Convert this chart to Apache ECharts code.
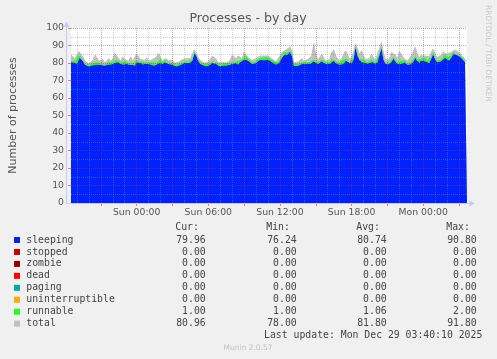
<!DOCTYPE html>
<html><head><meta charset="utf-8">
<script src="https://cdn.jsdelivr.net/npm/echarts@6/dist/echarts.min.js"></script>
<style>html,body{margin:0;padding:0;background:#f0f0f0}#c{width:497px;height:359px}</style>
</head><body><div id="c"></div>
<script>
// ---- data ----
const startMinute = -330;          // Sat 18:30 relative to Sun 00:00
const stepMinutes = 10;
const xTickLabels = ['Sun 00:00','Sun 06:00','Sun 12:00','Sun 18:00','Mon 00:00'];
const yTicks = [0,10,20,30,40,50,60,70,80,90,100];

const sleeping = [
80.5,80.8,80.2,79.5,83.5,84.5,81,79,78.5,78,
78.5,79,78.8,79.5,79,78.8,79.2,78.5,79,79.5,
79,79.5,80,81,80.5,79.5,79,80,79.5,79,
79.5,79,78.5,80.5,81.5,80,79,79.5,80,79.5,
79,79.5,78.5,79,80,80.5,79.5,80.5,81,79.5,
79.5,79,78.5,78,78.5,79,79.5,80,80.5,80,
80,81.5,85.5,84,81,79.5,79,78.5,78,78.5,
79,80,81,79.5,78.5,78,78.5,79,78.5,78.8,
79,79.5,80.5,80,79,80.5,81,82,82.5,81.5,
80.5,79.5,79.5,80,81.5,82,82,81.5,82.5,82,
81.5,80.5,80,79,79.5,80.5,83,84.5,85.5,85,
86.5,84,78.5,78,78.5,79,79.5,79,79.5,80,
79.5,80.5,81,80.5,79.5,80,81,80.5,79.5,80,
79.5,80.5,81.5,80,79.5,79,80.5,79.5,81.5,82.5,
80,79.5,82,89,84,81.5,80.5,81,80,79.5,
80,81,80.5,79.5,80,84.5,88.5,82,79.5,79,
79.5,80.5,82.5,81,79.5,80,79.5,81,80.5,79,
79,79.5,80.5,83,81,80,81.5,82,81,80.5,
80,82.5,85,82,80.5,80,81,82,83,82.5,
81.5,83,85.5,86,84.5,84,83,82,80.5,79.96
];
const runnable = [
1,1,1,1,1,1,1,1,1,1,
1,1,2,1,1,1,1,1,1,1,
1,1,1,1,1,1,1,1,1,1,
1,1,1,1,1,1,1,1,1,1,
1,1,1,1,1,2,1,1,1,1,
1,1,1,1,1,1,1,1,1,1,
1,1,1,2,1,1,1,1,1,1,
1,1,1,1,1,1,1,1,1,1,
1,1,1,1,1,1,1,1,2,1,
1,1,1,1,1,1,1,1,1,1,
1,1,1,1,1,1,1,2,1,1,
1,1,1,1,1,1,1,1,1,1,
1,1,1,1,1,1,1,1,1,1,
1,2,1,1,1,1,1,1,1,1,
1,1,1,1,1,1,1,1,1,1,
1,1,2,1,1,1,1,1,1,1,
1,1,1,1,1,1,2,1,1,1,
1,1,1,1,1,1,1,1,2,1,
1,1,1,1,1,1,1,1,2,1,
1,1,1,1,1,2,1,1,1,1
];
const total = [
84.5,84,82.5,83,86.5,87,83.5,81,80,79.5,
80,81.5,84.5,83,81,80.5,82,80,81,82.5,
81,82.5,85.5,84,82.5,81,83.5,82,83,81,
83.5,81,80.5,85,84,82,81,81.5,83,81,
80.5,82,81,83.5,85.5,83,81,82.5,83,81.5,
82.5,81.5,80,79.5,80.5,81,82,83,82.5,82,
82.5,85,87.5,86.5,83,81.5,81,80,79.5,80.5,
81,84,85,82,80,79.5,80.5,81,80,80.5,
81.5,84.5,85,82.5,84,83,82.5,86,84.5,83,
82,81.5,81,82.5,83.5,84,83.5,84,85,84,
83.5,82.5,82,80.5,81.5,84,86,86.5,87.5,88,
89,87,80,79.5,80.5,81.5,82.5,81,81.5,82,
81.5,84,91,85,81.5,82,85,84,81,82,
82,86,87.5,84,85,81,82.5,83,87,86,
82,83.5,86,91,88,85,87,84,82,81,
82.5,85,83,81.5,82,88,91.8,85.5,82,81.5,
82,86,85,84.5,82,86.5,85,83,82,81,
80.5,84,86.5,89,85,83,84.5,85.5,84,83,
83.5,86,88,85,83,82,84.5,86,86.5,85,
84,86,87,87.5,86.5,86,85,83.5,82,80.96
];

const legendNames = ['sleeping','stopped','zombie','dead','paging','uninterruptible','runnable','total'];
const legendColors = ['#0022ff','#cc0000','#990000','#ff0000','#00aaaa','#ffaa00','#22ff22','#c0c0c0'];
const curVals = ['79.96','0.00','0.00','0.00','0.00','0.00','1.00','80.96'];
const minVals = ['76.24','0.00','0.00','0.00','0.00','0.00','1.00','78.00'];
const avgVals = ['80.74','0.00','0.00','0.00','0.00','0.00','1.06','81.80'];
const maxVals = ['90.80','0.00','0.00','0.00','0.00','0.00','2.00','91.80'];
const headers = ['Cur:','Min:','Avg:','Max:'];
const lastUpdate = 'Last update: Mon Dec 29 03:40:10 2025';

// ---- categories ----
const minutes = sleeping.map((_, i) => startMinute + i * stepMinutes);
const days = ['Sat','Sun','Mon'];
const cats = minutes.map(m => {
  const d = days[Math.floor((m + 1440) / 1440)];
  const mm = ((m % 1440) + 1440) % 1440;
  const h = Math.floor(mm / 60), mi = mm % 60;
  return d + ' ' + String(h).padStart(2,'0') + ':' + String(mi).padStart(2,'0');
});

const SANS = '"DejaVu Sans", sans-serif';
const MONO = '"DejaVu Sans Mono", monospace';
const axisBlue = '#c3caf3';
const majorGrid = 'rgba(200,40,40,0.45)';
const minorGrid = 'rgba(140,140,140,0.4)';

const chart = echarts.init(document.getElementById('c'), null, {renderer: 'canvas'});

// ---- legend table graphics ----
const g = [];
const colRight = [205.7, 296.7, 386.7, 476.7];
const vals = [curVals, minVals, avgVals, maxVals];
headers.forEach((h, k) => g.push({type:'text', x: colRight[k] - 6.8, y: 227.3, z: 50,
  style:{text:h, font:'9.8px ' + MONO, fill:'#444', textAlign:'right', textVerticalAlign:'middle'}}));
legendNames.forEach((n, r) => {
  const y = 240 + r * 11.95;
  g.push({type:'rect', shape:{x:14, y:y - 3, width:6, height:6}, z: 50, style:{fill: legendColors[r]}});
  g.push({type:'text', x:26.3, y:y, z: 50, style:{text:n, font:'9.8px ' + MONO, fill:'#444', textVerticalAlign:'middle'}});
  vals.forEach((arr, k) => g.push({type:'text', x: colRight[k], y: y, z: 50,
    style:{text: arr[r], font:'9.8px ' + MONO, fill:'#444', textAlign:'right', textVerticalAlign:'middle'}}));
});
g.push({type:'text', x:482.3, y:335.7, z:50, style:{text:lastUpdate, font:'9.8px ' + MONO, fill:'#444', textAlign:'right', textVerticalAlign:'middle'}});
g.push({type:'text', x:248, y:348.3, z:50, style:{text:'Munin 2.0.57', font:'7.5px ' + SANS, fill:'#c4c4c4', textAlign:'center', textVerticalAlign:'middle'}});
g.push({type:'text', x:248, y:18.5, z:50, style:{text:'Processes - by day', font:'12.6px ' + SANS, fill:'#555', textAlign:'center', textVerticalAlign:'middle'}});
g.push({type:'text', x:488, y:5, rotation:-Math.PI/2, z:50, style:{text:'RRDTOOL / TOBI OETIKER', font:'7.5px ' + SANS, fill:'#c8c8c8', textAlign:'left', textVerticalAlign:'middle'}});
// axis lines with arrows
g.push({type:'line', z:60, shape:{x1:66.5, y1:203.5, x2:471, y2:203.5}, style:{stroke:axisBlue, lineWidth:1}});
g.push({type:'polygon', z:60, shape:{points:[[469.5,200.5],[474.5,203.5],[469.5,206.5]]}, style:{fill:axisBlue}});
g.push({type:'line', z:60, shape:{x1:66.5, y1:203.5, x2:66.5, y2:24}, style:{stroke:axisBlue, lineWidth:1}});
g.push({type:'polygon', z:60, shape:{points:[[63.5,27],[66.5,21.5],[69.5,27]]}, style:{fill:axisBlue}});

const option = {
  backgroundColor: '#f0f0f0',
  animation: false,
  grid: {left: 67, top: 28, width: 400, height: 175, show: true, backgroundColor: '#ffffff', borderWidth: 0},
  xAxis: [{
    type: 'category', data: cats, boundaryGap: false, z: 3,
    axisLine: {show: false},
    axisTick: {show: true, length: 3, interval: (i) => minutes[i] % 180 === 0, lineStyle: {color: '#e08080'}},
    axisLabel: {interval: (i, v) => xTickLabels.indexOf(v) >= 0, fontSize: 9.3, fontFamily: SANS, color: '#555', margin: 5},
    splitLine: {show: true, interval: (i) => minutes[i] % 180 === 0, lineStyle: {color: majorGrid, type: 'dotted', width: 1}}
  }, {
    type: 'category', data: cats, boundaryGap: false, z: 3, position: 'bottom',
    axisLine: {show: false}, axisTick: {show: false}, axisLabel: {show: false},
    splitLine: {show: true, interval: (i) => minutes[i] % 60 === 0 && minutes[i] % 180 !== 0, lineStyle: {color: minorGrid, type: 'dotted', width: 1}}
  }],
  yAxis: {
    type: 'value', min: 0, max: 100, interval: 10, z: 3,
    name: 'Number of processes', nameLocation: 'middle', nameGap: 52,
    nameTextStyle: {fontSize: 11, fontFamily: SANS, color: '#555'},
    axisLine: {show: false},
    axisTick: {show: true, length: 3, lineStyle: {color: '#e08080'}},
    axisLabel: {fontSize: 9.3, fontFamily: SANS, color: '#555', margin: 7},
    splitLine: {show: true, lineStyle: {color: majorGrid, type: 'dotted', width: 1}},
    minorTick: {show: false, splitNumber: 2},
    minorSplitLine: {show: true, lineStyle: {color: minorGrid, type: 'dotted', width: 1}}
  },
  series: [
    {name: 'total', type: 'line', data: total, showSymbol: false, z: 1,
      lineStyle: {width: 1, color: '#c0c0c0'}, areaStyle: {color: '#c0c0c0', opacity: 1}, itemStyle: {color: '#c0c0c0'}},
    {name: 'sleeping', type: 'line', stack: 'p', data: sleeping, showSymbol: false, z: 2,
      lineStyle: {width: 0}, areaStyle: {color: '#0022ff', opacity: 1}, itemStyle: {color: '#0022ff'}},
    {name: 'runnable', type: 'line', stack: 'p', data: runnable, showSymbol: false, z: 2,
      lineStyle: {width: 0}, areaStyle: {color: '#22ff22', opacity: 1}, itemStyle: {color: '#22ff22'}}
  ],
  graphic: g
};
chart.setOption(option);
</script></body></html>
